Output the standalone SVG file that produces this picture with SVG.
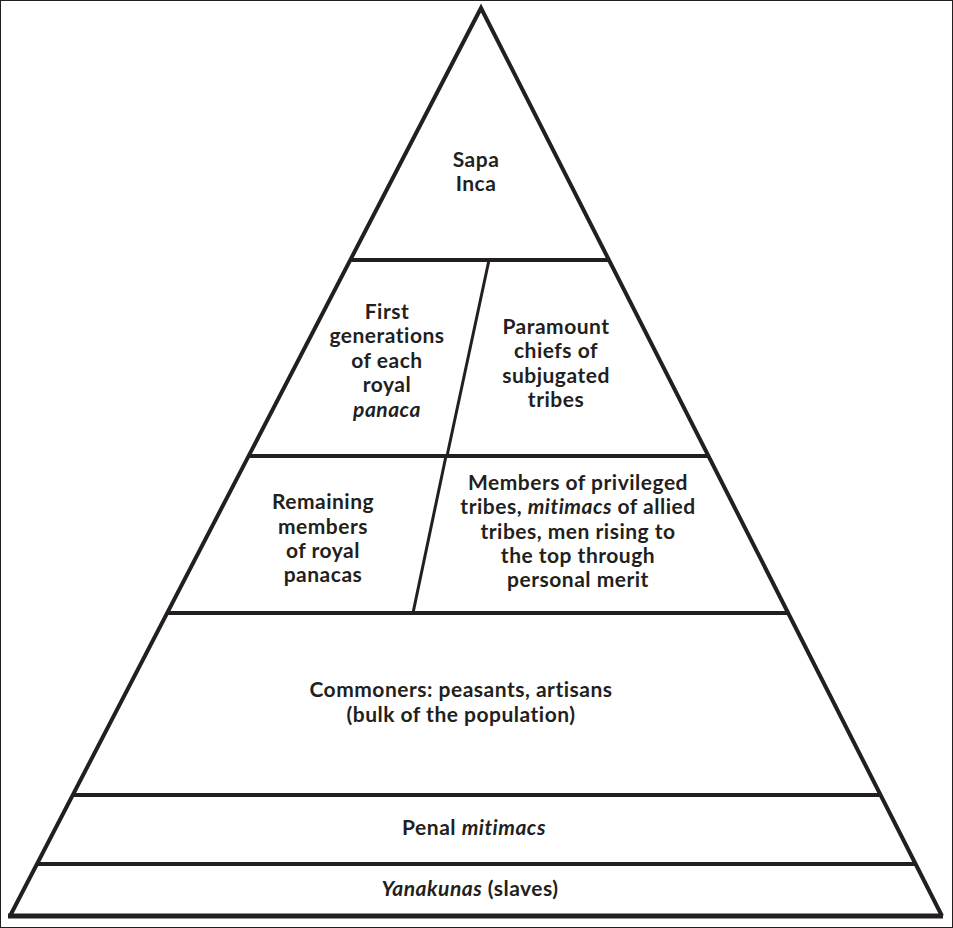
<svg xmlns="http://www.w3.org/2000/svg" width="953" height="928" viewBox="0 0 953 928">
<style>
.ln{stroke:#231f20;stroke-width:4;fill:none;stroke-linecap:butt}
.t{font-family:Lato,"Open Sans","Liberation Sans",sans-serif;font-weight:700;font-size:21px;letter-spacing:0.5px;font-variant-ligatures:none;fill:#231f20;text-anchor:middle}
.i{font-style:italic}
</style>
<rect x="0.5" y="0.5" width="952" height="927" fill="#fff" stroke="#231f20" stroke-width="1"/>
<g id="connectors">
<path class="ln" d="M10,916 L481,8 L942,916"/>
<line class="ln" x1="8" y1="916" x2="943" y2="916" style="stroke-width:5"/>
<line class="ln" x1="349" y1="260" x2="609" y2="260"/>
<line class="ln" x1="248" y1="456" x2="709" y2="456"/>
<line class="ln" x1="166" y1="613" x2="789" y2="613"/>
<line class="ln" x1="72" y1="795" x2="882" y2="795"/>
<line class="ln" x1="36" y1="864" x2="917" y2="864"/>
<line class="ln" x1="489" y1="260" x2="447" y2="456" style="stroke-width:3"/>
<line class="ln" x1="446" y1="456" x2="413" y2="613" style="stroke-width:3"/>
</g>
<g id="sapa-inca"><text class="t" x="476" y="167">Sapa</text><text class="t" x="476" y="191">Inca</text></g>
<g id="first-generations"><text class="t" x="387" y="319">First</text><text class="t" x="387" y="343">generations</text><text class="t" x="387" y="368">of each</text><text class="t" x="387" y="392">royal</text><text class="t i" x="387" y="417">panaca</text></g>
<g id="paramount-chiefs"><text class="t" x="556" y="334">Paramount</text><text class="t" x="556" y="358">chiefs of</text><text class="t" x="556" y="383">subjugated</text><text class="t" x="556" y="407">tribes</text></g>
<g id="remaining-members"><text class="t" x="323" y="509">Remaining</text><text class="t" x="323" y="534">members</text><text class="t" x="323" y="558">of royal</text><text class="t" x="323" y="582">panacas</text></g>
<g id="privileged-tribes"><text class="t" x="578" y="490">Members of privileged</text><text class="t" x="578" y="514">tribes, <tspan class="i">mitimacs</tspan> of allied</text><text class="t" x="578" y="539">tribes, men rising to</text><text class="t" x="578" y="563">the top through</text><text class="t" x="578" y="587">personal merit</text></g>
<g id="commoners"><text class="t" x="461" y="697">Commoners: peasants, artisans</text><text class="t" x="461" y="722">(bulk of the population)</text></g>
<g id="penal-mitimacs"><text class="t" x="474" y="835">Penal <tspan class="i">mitimacs</tspan></text></g>
<g id="yanakunas"><text class="t" x="470" y="896"><tspan class="i">Yanakunas</tspan> (slaves)</text></g>
</svg>
